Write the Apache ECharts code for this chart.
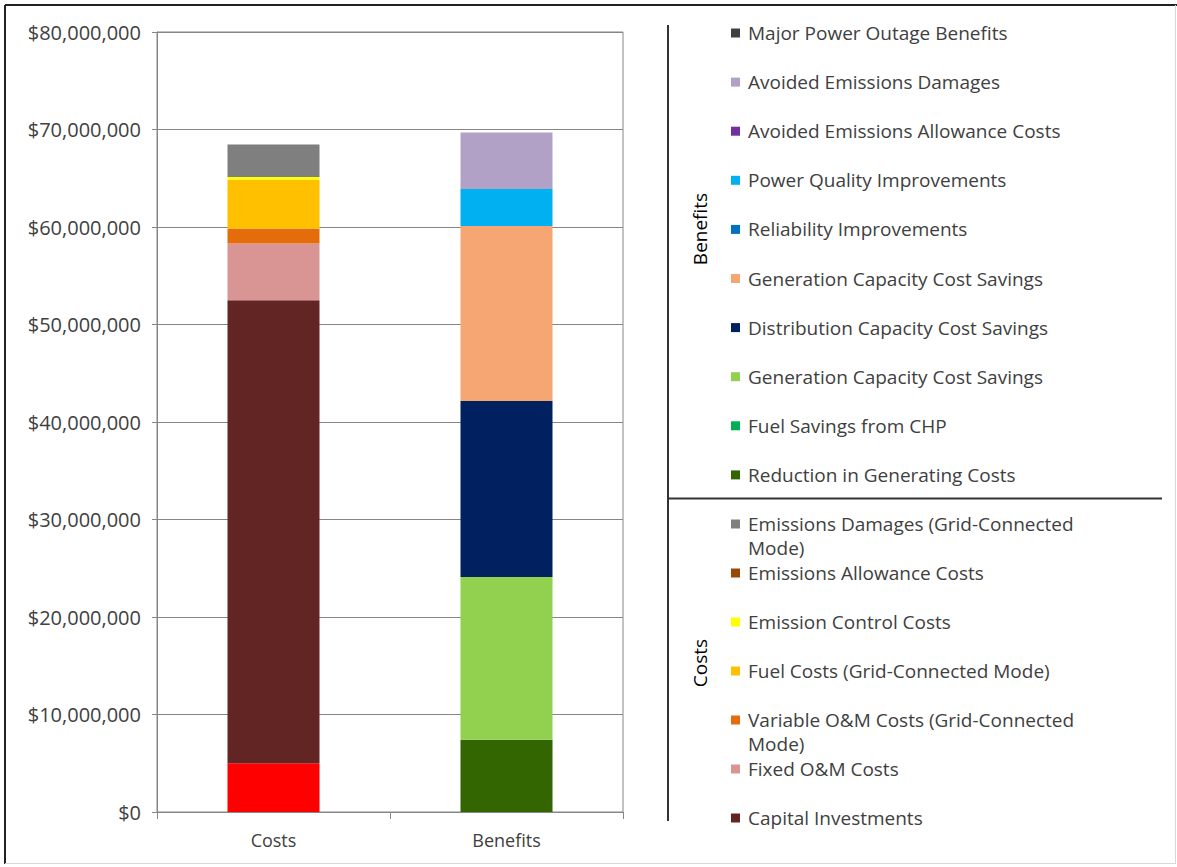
<!DOCTYPE html>
<html>
<head>
<meta charset="utf-8">
<script src="https://cdn.jsdelivr.net/npm/echarts@6/dist/echarts.min.js"></script>
<style>
  html, body { margin: 0; padding: 0; background: #fff; }
  #chart { width: 1177px; height: 867px; }
</style>
</head>
<body>
<div id="chart"></div>
<script>
// Categories on the x axis
const categories = ['Costs', 'Benefits'];

// Cost components, listed from the bottom of the stack upward
const costNames = [
  'Capital Investments',
  'Fixed O&M Costs',
  'Variable O&M Costs (Grid-Connected Mode)',
  'Fuel Costs (Grid-Connected Mode)',
  'Emission Control Costs',
  'Emissions Allowance Costs',
  'Emissions Damages (Grid-Connected Mode)'
];
const costValues = [47.5e6, 5.8e6, 1.55e6, 5.0e6, 0.27e6, 0, 3.35e6];

// Base cost segment drawn under the stack (not listed in the key)
const baseCostName = 'Interconnection Costs';
const baseCostValue = 5.0e6;

// Benefit components, listed from the bottom of the stack upward
const benefitNames = [
  'Reduction in Generating Costs',
  'Fuel Savings from CHP',
  'Generation Capacity Cost Savings',
  'Distribution Capacity Cost Savings',
  'Generation Capacity Cost Savings',
  'Reliability Improvements',
  'Power Quality Improvements',
  'Avoided Emissions Allowance Costs',
  'Avoided Emissions Damages',
  'Major Power Outage Benefits'
];
const benefitValues = [7.4e6, 0, 16.7e6, 18.05e6, 17.95e6, 0, 3.8e6, 0, 5.8e6, 0];

// Value axis range and tick step
const yMin = 0;
const yMax = 80e6;
const yStep = 10e6;

// Palettes
const baseCostColor = '#FF0000';
const costColors = ['#632523', '#D99594', '#E46C0A', '#FFC000', '#FFFF00', '#984807', '#7F7F7F'];
const benefitColors = ['#336600', '#00B050', '#92D050', '#002060', '#F6A673', '#0070C0', '#00B0F0', '#7030A0', '#B2A1C7', '#404040'];

const FONT = '"Open Sans", Lato, sans-serif';
const TEXT_COLOR = '#404040';
const KEY_FONT_SIZE = 19;

const chart = echarts.init(document.getElementById('chart'), null, { renderer: 'svg' });

const barBase = { type: 'bar', stack: 'total', barWidth: 92 };

const series = [];
series.push(Object.assign({}, barBase, {
  name: baseCostName,
  itemStyle: { color: baseCostColor },
  data: [baseCostValue, null]
}));
costNames.forEach((n, i) => {
  series.push(Object.assign({}, barBase, {
    id: 'cost-' + i,
    name: n,
    itemStyle: { color: costColors[i] },
    data: [costValues[i], null]
  }));
});
benefitNames.forEach((n, i) => {
  series.push(Object.assign({}, barBase, {
    id: 'benefit-' + i,
    name: n,
    itemStyle: { color: benefitColors[i] },
    data: [null, benefitValues[i]]
  }));
});

// Key on the right: group labels, separators and swatches
const graphics = [];
const keyX = 731;
const textX = 748;
const lineH = 24;

function keyEntry(name, color, y) {
  graphics.push({
    type: 'rect',
    shape: { x: keyX, y: y - 4.5, width: 9, height: 9 },
    style: { fill: color }
  });
  graphics.push({
    type: 'text',
    x: textX,
    y: y - lineH / 2,
    style: {
      text: name,
      fill: TEXT_COLOR,
      font: KEY_FONT_SIZE + 'px ' + FONT,
      lineHeight: lineH,
      width: 360,
      overflow: 'break',
      verticalAlign: 'top',
      align: 'left'
    }
  });
}

// Benefits group, top of the stack listed first
benefitNames.slice().reverse().forEach((n, k) => {
  const i = benefitNames.length - 1 - k;
  keyEntry(n, benefitColors[i], 33 + k * 49.1);
});
// Costs group, top of the stack listed first
costNames.slice().reverse().forEach((n, k) => {
  const i = costNames.length - 1 - k;
  keyEntry(n, costColors[i], 524 + k * 49);
});

// Group titles
[['Benefits', 229], ['Costs', 663]].forEach(([t, y]) => {
  graphics.push({
    type: 'text',
    x: 700, y: y,
    rotation: Math.PI / 2,
    style: {
      text: t, fill: '#000', font: '19px ' + FONT,
      align: 'center', verticalAlign: 'middle'
    }
  });
});

// Separators in the key
graphics.push({ type: 'line', shape: { x1: 668, y1: 25, x2: 668, y2: 821 }, style: { stroke: '#333', lineWidth: 2 } });
graphics.push({ type: 'line', shape: { x1: 668, y1: 498.5, x2: 1162, y2: 498.5 }, style: { stroke: '#333', lineWidth: 2 } });

// Outer frame
graphics.push({ type: 'line', shape: { x1: 5, y1: 5, x2: 1177, y2: 5 }, style: { stroke: '#222', lineWidth: 2 } });
graphics.push({ type: 'line', shape: { x1: 5, y1: 5, x2: 5, y2: 864 }, style: { stroke: '#222', lineWidth: 2 } });
graphics.push({ type: 'line', shape: { x1: 5, y1: 863.5, x2: 1176, y2: 863.5 }, style: { stroke: '#d8d8d8', lineWidth: 1 } });
graphics.push({ type: 'line', shape: { x1: 1175.5, y1: 5, x2: 1175.5, y2: 864 }, style: { stroke: '#d8d8d8', lineWidth: 1 } });

const axisGray = '#868686';

chart.setOption({
  animation: false,
  backgroundColor: '#fff',
  textStyle: { fontFamily: FONT },
  grid: {
    left: 157, top: 32, right: 1177 - 623, bottom: 867 - 812,
    show: true, borderColor: axisGray, borderWidth: 1, backgroundColor: 'transparent'
  },
  xAxis: {
    type: 'category',
    data: categories,
    axisLine: { show: true, lineStyle: { color: axisGray, width: 1 } },
    axisTick: { show: true, alignWithLabel: false, length: 7, lineStyle: { color: axisGray } },
    axisLabel: { color: TEXT_COLOR, fontSize: 18, fontFamily: FONT, margin: 19 }
  },
  yAxis: {
    type: 'value',
    min: yMin, max: yMax, interval: yStep,
    axisLine: { show: true, lineStyle: { color: axisGray, width: 1 } },
    axisTick: { show: true, length: 5, lineStyle: { color: axisGray } },
    splitLine: { show: true, lineStyle: { color: axisGray, width: 1 } },
    axisLabel: {
      color: TEXT_COLOR, fontSize: 20, fontFamily: FONT, margin: 16,
      formatter: v => '$' + v.toLocaleString('en-US')
    }
  },
  series: series,
  graphic: graphics
});
</script>
</body>
</html>
